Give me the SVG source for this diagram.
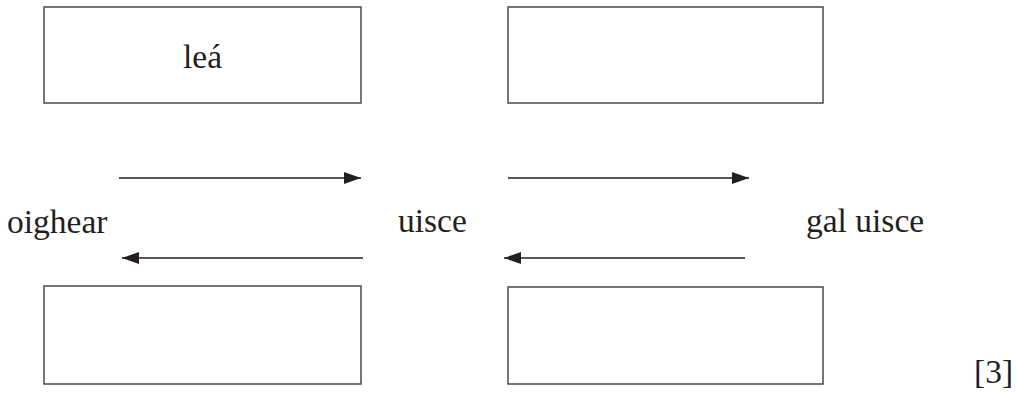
<svg xmlns="http://www.w3.org/2000/svg" width="1016" height="398" viewBox="0 0 1016 398">
<defs>
<style>
.box{fill:#fff;stroke:#4a4a4a;stroke-width:1.5}
.lbl{font-family:"Liberation Serif","Times New Roman",serif;font-size:33.5px;fill:#231f20}
.arr{stroke:#231f20;stroke-width:1.4;fill:none}
</style>
<marker id="ah" markerWidth="17" markerHeight="12" refX="17" refY="6" orient="auto" markerUnits="userSpaceOnUse">
<path d="M0,0 L17,6 L0,12 Z" fill="#231f20"/>
</marker>
</defs>
<rect width="1016" height="398" fill="#fff"/>
<g id="box-top-left"><rect class="box" x="44" y="7" width="317" height="96"/><text class="lbl" x="202.5" y="68" text-anchor="middle">leá</text></g>
<g id="box-top-right"><rect class="box" x="508" y="7" width="315" height="96"/></g>
<g id="box-bottom-left"><rect class="box" x="44" y="286" width="317" height="98"/></g>
<g id="box-bottom-right"><rect class="box" x="508" y="287" width="315" height="97"/></g>
<g id="oighear"><text class="lbl" x="7" y="233">oighear</text></g>
<g id="uisce"><text class="lbl" x="398" y="232">uisce</text></g>
<g id="gal-uisce"><text class="lbl" x="806" y="232">gal uisce</text></g>
<g id="marks"><text class="lbl" x="974" y="383">[3]</text></g>
<g id="connectors">
<line class="arr" x1="119" y1="178" x2="361" y2="178" marker-end="url(#ah)"/>
<line class="arr" x1="508" y1="178" x2="749" y2="178" marker-end="url(#ah)"/>
<line class="arr" x1="363" y1="258" x2="122" y2="258" marker-end="url(#ah)"/>
<line class="arr" x1="745" y1="258" x2="504" y2="258" marker-end="url(#ah)"/>
</g>
</svg>
